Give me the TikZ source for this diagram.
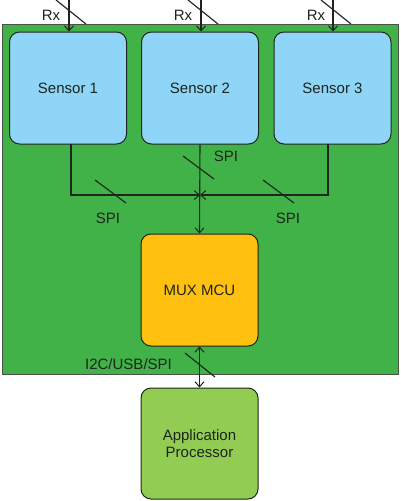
\documentclass[tikz,border=0pt]{standalone}
\usepackage{fontspec}
\setmainfont{Liberation Sans}
\usetikzlibrary{arrows.meta}
\definecolor{board}{RGB}{64,178,72}
\definecolor{sensorblue}{RGB}{142,213,247}
\definecolor{mcugold}{RGB}{255,192,16}
\definecolor{apgreen}{RGB}{146,204,82}
\definecolor{ink}{RGB}{30,36,30}
\tikzset{
  blk/.style={draw=ink, line width=1pt, rounded corners=10pt, minimum width=117pt, minimum height=112pt, inner sep=2pt, align=center, text=ink, font=\fontsize{15}{18}\selectfont},
  wire/.style={draw=ink, line width=1.1pt},
  tip/.style={-{Straight Barb[length=5pt,width=9pt,line width=1pt]}},
  dtip/.style={{Straight Barb[length=5pt,width=9pt,line width=1pt]}-{Straight Barb[length=5pt,width=9pt,line width=1pt]}},
  slash/.style={draw=ink, line width=1.1pt},
  lbl/.style={text=ink, font=\fontsize{15}{18}\selectfont, inner sep=0pt}
}
\begin{document}
\begin{tikzpicture}[x=1pt,y=-1pt]
\useasboundingbox (0,0) rectangle (400,501);
\fill[white] (0,0) rectangle (400,501);
% board
\filldraw[fill=board, draw=ink!80, line width=0.8pt] (2,24) rectangle (398,374);
% blocks
\node[blk, fill=sensorblue] (s1) at (68,88) {Sensor 1};
\node[blk, fill=sensorblue] (s2) at (200,88) {Sensor 2};
\node[blk, fill=sensorblue] (s3) at (332.5,88) {Sensor 3};
\node[blk, fill=mcugold] (mcu) at (199.5,290) {MUX MCU};
\node[blk, fill=apgreen, minimum height=111pt] (ap) at (199.5,443.5) {Application\\[-1pt]Processor};
% Rx inputs
\coordinate (rx1) at (69,0);
\coordinate (rx2) at (201,0);
\coordinate (rx3) at (333,0);
\draw[wire,tip] (rx1) -- (rx1 |- s1.north);
\draw[wire,tip] (rx2) -- (rx2 |- s2.north);
\draw[wire,tip] (rx3) -- (rx3 |- s3.north);
\draw[slash] (56,0) -- (86,24);
\draw[slash] (188,0) -- (218,24);
\draw[slash] (321,0) -- (351,24);
\node[lbl] (lrx1) at (51,15) {Rx};
\node[lbl] (lrx2) at (183,15) {Rx};
\node[lbl] (lrx3) at (316,15) {Rx};
% SPI bus
\coordinate (j) at (200,195);
\coordinate (b1) at (71,144);
\coordinate (b3) at (328,144);
\draw[wire,tip] (b1) -- (b1 |- j) -- (j);
\draw[wire,tip] (b3) -- (b3 |- j) -- (j);
\draw[wire,tip] (s2.south) -- (mcu.north);
\draw[slash] (95,180) -- (126,203);
\draw[slash] (183,156) -- (214,179);
\draw[slash] (263,180) -- (294,203);
\node[lbl] (spi2) at (226,156) {SPI};
\node[lbl] (spi1) at (108,218) {SPI};
\node[lbl] (spi3) at (288,218) {SPI};
% MCU to AP
\draw[wire,dtip] (mcu.south) -- (ap.north);
\draw[slash] (185,353) -- (215,377);
\node[lbl] (i2c) at (128.5,364) {I2C/USB/SPI};
\end{tikzpicture}
\end{document}
